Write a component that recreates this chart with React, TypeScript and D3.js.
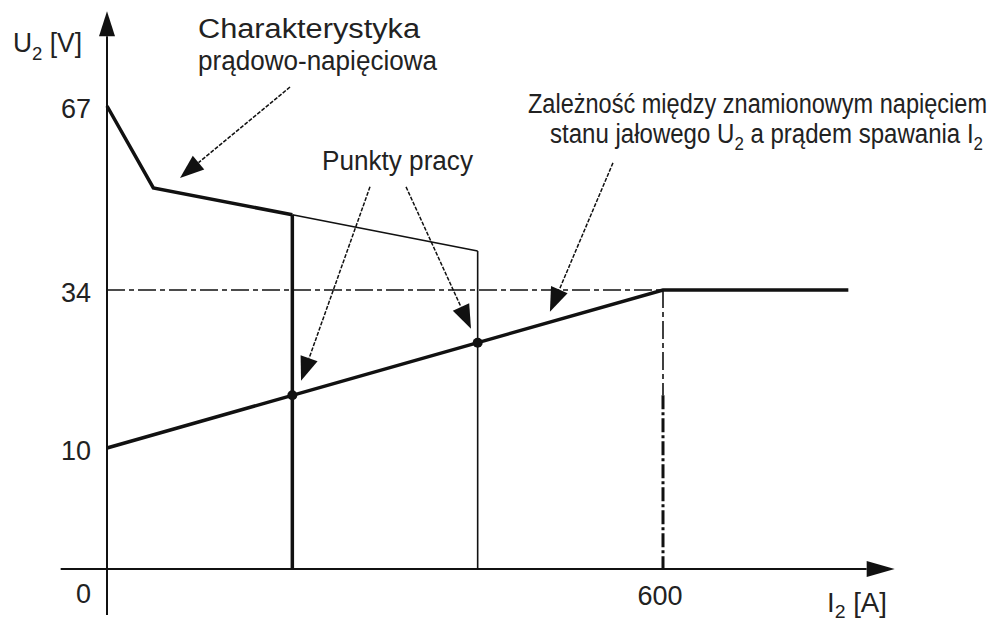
import * as d3 from 'd3'

// static current-voltage characteristic (U2 vs I2)
const I_CHAR = [0, 50, 200, 400]
const U_CHAR = [67, 52.3, 47.5, 41.0]
// rated no-load voltage vs welding current
const I_LOAD = [0, 600, 800]
const U_LOAD = [10, 34, 34]
// working points
const I_WORK = [200, 400]
const U_WORK = [18, 26]

const Y_TICKS = [10, 34, 67]
const X_TICKS = [600]

// annotation arrows (data units): tail -> tip
const ARROW_FROM_I = [197.5, 283.8, 322.7, 546]
const ARROW_FROM_U = [70.4, 52.5, 52.5, 56.8]
const ARROW_TO_I = [78.8, 209.4, 392.8, 478]
const ARROW_TO_U = [54.1, 20.2, 28.1, 30.7]

const W = 1001
const H = 623
const FONT = '"Liberation Sans", Arial, sans-serif'
const INK = '#111'

function head(x1: number, y1: number, x2: number, y2: number, len: number, half: number) {
  const dx = x2 - x1, dy = y2 - y1
  const d = Math.hypot(dx, dy)
  const ux = dx / d, uy = dy / d
  const bx = x2 - ux * len, by = y2 - uy * len
  const nx = -uy * half, ny = ux * half
  return {
    base: [bx, by],
    path: `M${x2},${y2}L${bx + nx},${by + ny}L${bx - nx},${by - ny}Z`,
  }
}

export default function App() {
  const x = d3.scaleLinear().domain([0, 600]).range([107, 663])
  // the drawing is not to scale on the voltage axis
  const y = d3.scaleLinear().domain([0, 10, 34, 67]).range([569, 448, 290, 106])

  const mk = (xs: number[], ys: number[]) =>
    d3.line<number>().x(i => x(xs[i])).y(i => y(ys[i]))(xs.map((_, i) => i)) || ''

  const x0 = x(0), y0 = y(0)

  // axes
  const yTop = y(84), yBot = y(-3.8)
  const xLeft = x(-50), xRight = x(850)
  const yHead = head(x0, yBot, x0, yTop, 25, 8)
  const xHead = head(xLeft, y0, xRight, y0, 28, 8)

  const dashDot = '18,4,5,4'

  return (
    <div>
      <style>{`body{margin:0;background:#fff}`}</style>
      <svg width={W} height={H} style={{ display: 'block', background: '#fff' }} fontFamily={FONT}>
        {/* reference dash-dot lines */}
        <line x1={x0} x2={x(600)} y1={y(34)} y2={y(34)} stroke={INK} strokeWidth={1.6} strokeDasharray={dashDot} />
        <line x1={x(600)} x2={x(600)} y1={y(34)} y2={y(18)} stroke={INK} strokeWidth={1.6} strokeDasharray={dashDot} />
        <line x1={x(600)} x2={x(600)} y1={y(18)} y2={y0} stroke={INK} strokeWidth={3} strokeDasharray="14,3,3,3" />

        {/* current-voltage characteristic */}
        <path d={mk(I_CHAR.slice(0, 3), U_CHAR.slice(0, 3))} fill="none" stroke={INK} strokeWidth={3.5} />
        <path d={mk(I_CHAR.slice(2), U_CHAR.slice(2))} fill="none" stroke={INK} strokeWidth={1.6} />
        <line x1={x(I_CHAR[2])} x2={x(I_CHAR[2])} y1={y(U_CHAR[2])} y2={y0} stroke={INK} strokeWidth={3.5} />
        <line x1={x(I_CHAR[3])} x2={x(I_CHAR[3])} y1={y(U_CHAR[3])} y2={y0} stroke={INK} strokeWidth={1.6} />

        {/* load line */}
        <path d={mk(I_LOAD, U_LOAD)} fill="none" stroke={INK} strokeWidth={3.5} />
        {I_WORK.map((v, i) => (
          <circle key={i} cx={x(v)} cy={y(U_WORK[i])} r={5} fill={INK} />
        ))}

        {/* axes */}
        <line x1={x0} x2={x0} y1={yBot} y2={yHead.base[1]} stroke={INK} strokeWidth={2} />
        <path d={yHead.path} fill={INK} />
        <line x1={xLeft} x2={xHead.base[0]} y1={y0} y2={y0} stroke={INK} strokeWidth={2} />
        <path d={xHead.path} fill={INK} />

        {/* tick labels */}
        <g fontSize={27} fill="#222" textAnchor="end">
          {Y_TICKS.map(t => (
            <text key={t} x={91} y={y(t)} dy="0.45em">{t}</text>
          ))}
          <text x={91} y={y0 + 34}>0</text>
        </g>
        <g fontSize={27} fill="#222" textAnchor="middle">
          {X_TICKS.map(t => (
            <text key={t} x={x(t) - 3} y={y0 + 36}>{t}</text>
          ))}
        </g>

        {/* axis titles */}
        <text x={13} y={52} fontSize={27} fill="#222" textLength={69} lengthAdjust="spacingAndGlyphs">
          U<tspan fontSize={19} dy={8}>2</tspan><tspan dy={-8}> [V]</tspan>
        </text>
        <text x={827} y={612} fontSize={27} fill="#222" textLength={60} lengthAdjust="spacingAndGlyphs">
          I<tspan fontSize={19} dy={6}>2</tspan><tspan dy={-6}> [A]</tspan>
        </text>

        {/* annotation arrows */}
        {ARROW_FROM_I.map((fi, i) => {
          const x1 = x(fi), y1 = y(ARROW_FROM_U[i])
          const x2 = x(ARROW_TO_I[i]), y2 = y(ARROW_TO_U[i])
          const h = head(x1, y1, x2, y2, 24, 9)
          return (
            <g key={i}>
              <line x1={x1} y1={y1} x2={h.base[0]} y2={h.base[1]} stroke={INK} strokeWidth={1.5} strokeDasharray="4,1.5" />
              <path d={h.path} fill={INK} />
            </g>
          )
        })}

        {/* annotation texts */}
        <g fontSize={27} fill="#222">
          <text x={198} y={38} textLength={222} lengthAdjust="spacingAndGlyphs">Charakterystyka</text>
          <text x={198} y={70} textLength={239} lengthAdjust="spacingAndGlyphs">prądowo-napięciowa</text>
          <text x={322} y={170} textLength={151} lengthAdjust="spacingAndGlyphs">Punkty pracy</text>
          <text x={528} y={113} textLength={459} lengthAdjust="spacingAndGlyphs">Zależność między znamionowym napięciem</text>
          <text x={550} y={143} textLength={433} lengthAdjust="spacingAndGlyphs">
            stanu jałowego U<tspan fontSize={19} dy={7}>2</tspan><tspan dy={-7}> a prądem spawania I</tspan><tspan fontSize={19} dy={7}>2</tspan>
          </text>
        </g>
      </svg>
    </div>
  )
}
